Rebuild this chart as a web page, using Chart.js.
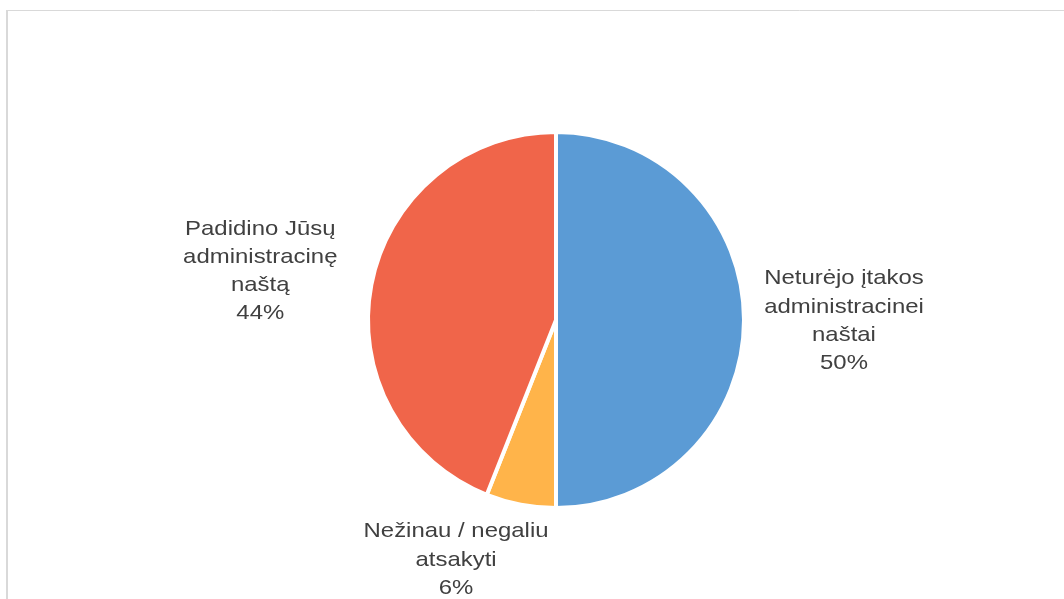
<!DOCTYPE html>
<html>
<head>
<meta charset="utf-8">
<script src="https://cdn.jsdelivr.net/npm/chart.js@4"></script>
<style>
  html, body { margin: 0; padding: 0; background: #fff; }
  #wrap { position: relative; width: 1064px; height: 599px; }
</style>
</head>
<body>
<div id="wrap"><canvas id="pieChart" width="1064" height="599"></canvas></div>
<script>
// slices, clockwise from 12 o'clock
const labels = [
  ['Neturėjo įtakos', 'administracinei', 'naštai'],
  ['Nežinau / negaliu', 'atsakyti'],
  ['Padidino Jūsų', 'administracinę', 'naštą']
];
const values = [50, 6, 44];
const colors = ['#5B9BD5', '#FFB44A', '#F0654A'];

// where each label block sits, relative to the slice's mid direction
const labelDist = [100, 52, 110];
const labelNudge = [[0, 1], [-55, 4], [-3, 7]];

const frame = {
  id: 'frame',
  beforeDraw(chart) {
    const ctx = chart.ctx;
    ctx.save();
    ctx.strokeStyle = '#d9d9d9';
    ctx.lineWidth = 1;
    ctx.beginPath();
    ctx.moveTo(7, 599);
    ctx.lineTo(7, 10.5);
    ctx.lineTo(1064, 10.5);
    ctx.stroke();
    ctx.lineWidth = 2;
    ctx.beginPath();
    ctx.moveTo(7, 599);
    ctx.lineTo(7, 10);
    ctx.stroke();
    ctx.restore();
  }
};

const sliceLabels = {
  id: 'sliceLabels',
  afterDraw(chart) {
    const ctx = chart.ctx;
    const meta = chart.getDatasetMeta(0);
    const total = values.reduce((a, b) => a + b, 0);
    ctx.save();
    ctx.fillStyle = '#404040';
    ctx.font = '21px "Liberation Sans", Arial, sans-serif';
    ctx.textAlign = 'center';
    ctx.textBaseline = 'middle';
    meta.data.forEach((arc, i) => {
      const mid = (arc.startAngle + arc.endAngle) / 2;
      const r = arc.outerRadius + labelDist[i];
      const cx = arc.x + Math.cos(mid) * r + labelNudge[i][0];
      const cy = arc.y + Math.sin(mid) * r + labelNudge[i][1];
      const lines = labels[i].concat([Math.round(values[i] / total * 100) + '%']);
      const lh = 28.3;
      const y0 = cy - (lines.length - 1) * lh / 2;
      lines.forEach((t, k) => {
        ctx.save();
        ctx.translate(cx, y0 + k * lh);
        ctx.scale(1.14, 1);
        ctx.fillText(t, 0, 0);
        ctx.restore();
      });
    });
    ctx.restore();
  }
};

new Chart(document.getElementById('pieChart'), {
  type: 'pie',
  data: {
    labels: labels.map(l => l.join(' ')),
    datasets: [{
      data: values,
      backgroundColor: colors,
      borderColor: '#ffffff',
      borderWidth: 4
    }]
  },
  options: {
    responsive: false,
    animation: false,
    radius: 188,
    layout: { padding: { left: 100, right: 52, top: 41, bottom: 0 } },
    plugins: {
      legend: { display: false },
      tooltip: { enabled: false }
    }
  },
  plugins: [frame, sliceLabels]
});
</script>
</body>
</html>
